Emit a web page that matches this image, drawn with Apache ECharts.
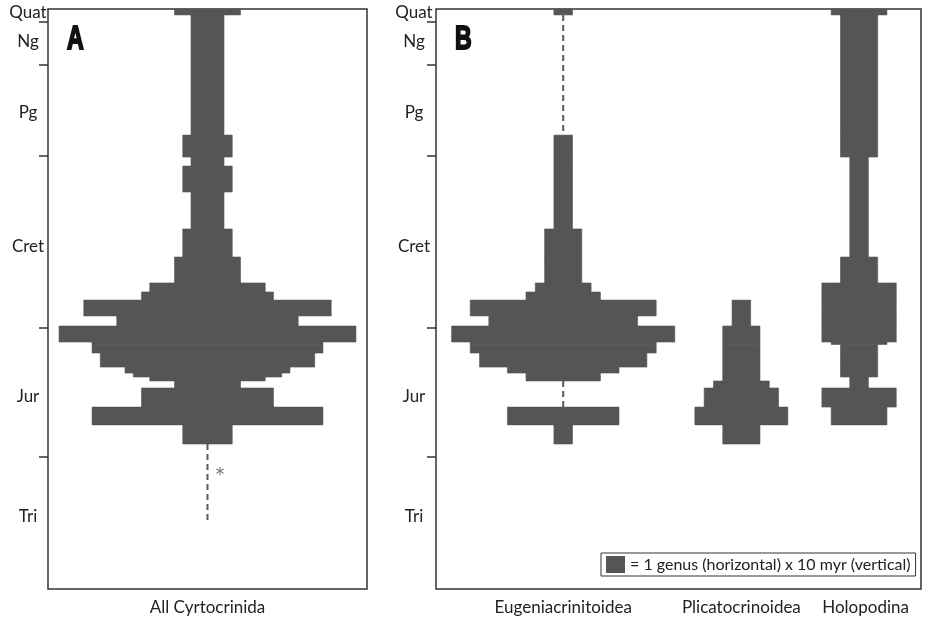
<!DOCTYPE html>
<html>
<head>
<meta charset="utf-8">
<title>Cyrtocrinida spindle diagrams</title>
<script src="https://cdn.jsdelivr.net/npm/echarts@6.0.0/dist/echarts.min.js"></script>
<style>
  html, body { margin: 0; padding: 0; background: #fff; }
  #chart { width: 930px; height: 621px; }
</style>
</head>
<body>
<div id="chart"></div>
<script>
// time bins in Ma, top of the column to the base (23 bins)
const binEdges = [0, 2.7, 57.4, 67.4, 71.5, 83.3, 100.1, 112.9, 124.7, 128.8, 132.5, 139.7,
  144.3, 151.6, 152.7, 156.6, 163.0, 165.7, 167.5, 169.3, 172.5, 181.2, 189.3, 198.0]

// genus counts per bin
const allCyrtocrinida = [4, 2, 3, 2, 3, 2, 3, 4, 7, 8, 15, 11, 18, 14, 14, 13, 10, 9, 7, 4, 8, 14, 3]
const eugeniacrinitoidea = [1, 0, 1, 1, 1, 1, 2, 2, 3, 4, 10, 8, 12, 10, 10, 9, 6, 4, 4, 0, 0, 6, 1]
const plicatocrinoidea = [0, 0, 0, 0, 0, 0, 0, 0, 0, 0, 1, 1, 2, 2, 2, 2, 2, 2, 2, 3, 4, 5, 2]
const holopodina = [3, 2, 2, 1, 1, 1, 1, 2, 4, 4, 4, 4, 4, 3, 2, 2, 2, 2, 1, 1, 4, 3, 0]

// ghost ranges (dashed), Ma
const cyrtoGhost = [[198.0, 233.5]]
const eugGhost = [[2.7, 57.4], [169.3, 181.2]]

// time scale
const periodBounds = [5.8, 25.2, 66.7, 145.0, 204.0]
const periodNames = ['Quat', 'Ng', 'Pg', 'Cret', 'Jur', 'Tri']
const periodLabelAt = [1.8, 15.0, 47.3, 107.9, 176.6, 231.2]

// layout (genus units along x)
const B_CENTERS = [6.84, 16.42, 22.75]
const B_LABEL_AT = [6.84, 16.42, 23.1]
const B_NAMES = ['Eugeniacrinitoidea', 'Plicatocrinoidea', 'Holopodina']
const ASTERISK_AT = [0.76, 212.5]

const FILL = '#555555'
const INK = '#222222'
const FONT = 'Lato, "Open Sans", sans-serif'

const toRows = (counts, center) =>
  counts.map((n, i) => [center, binEdges[i], binEdges[i + 1], n]).filter((r) => r[3] > 0)

const toGhost = (ranges, center) => ranges.map((r) => [center, r[0], r[1]])

const spindleItem = (params, api) => {
  const c = api.value(0)
  const n = api.value(3)
  const p0 = api.coord([c - n / 2, api.value(1)])
  const p1 = api.coord([c + n / 2, api.value(2)])
  return {
    type: 'rect',
    shape: { x: p0[0], y: p0[1], width: p1[0] - p0[0], height: p1[1] - p0[1] },
    style: { fill: FILL, stroke: FILL, lineWidth: 0.6 },
  }
}

const ghostItem = (params, api) => {
  const a = api.coord([api.value(0), api.value(1)])
  const b = api.coord([api.value(0), api.value(2)])
  return {
    type: 'line',
    shape: { x1: a[0], y1: a[1], x2: b[0], y2: b[1] },
    style: { stroke: '#5a5a5a', lineWidth: 2, lineDash: [6, 4] },
  }
}

const timeAxis = (gridIndex, margin) => ({
  type: 'value',
  gridIndex,
  inverse: true,
  min: 0,
  max: 264,
  axisLine: { show: false, onZero: false },
  splitLine: { show: false },
  axisTick: {
    show: true,
    customValues: periodBounds,
    length: 9,
    lineStyle: { color: '#333', width: 1.5 },
  },
  axisLabel: {
    customValues: periodLabelAt,
    formatter: (v) => periodNames[periodLabelAt.indexOf(v)],
    align: 'center',
    margin,
    fontSize: 17,
    fontFamily: FONT,
    color: INK,
  },
})

const cladeAxis = (gridIndex, min, max, values, names) => ({
  type: 'value',
  gridIndex,
  min,
  max,
  axisLine: { show: false, onZero: false },
  axisTick: { show: false },
  splitLine: { show: false },
  axisLabel: {
    customValues: values,
    formatter: (v) => names[values.indexOf(v)],
    margin: 10,
    fontSize: 17,
    fontFamily: FONT,
    color: INK,
  },
})

const spindle = (name, idx, rows) => ({
  name,
  type: 'custom',
  xAxisIndex: idx,
  yAxisIndex: idx,
  renderItem: spindleItem,
  itemStyle: { color: FILL },
  encode: { x: 0, y: [1, 2] },
  clip: false,
  data: rows,
})

const ghost = (idx, rows) => ({
  type: 'custom',
  xAxisIndex: idx,
  yAxisIndex: idx,
  renderItem: ghostItem,
  encode: { x: 0, y: [1, 2] },
  data: rows,
})

const box = { show: true, borderColor: '#333', borderWidth: 1.5, outerBoundsMode: 'none' }

const letter = (text, x) => ({
  type: 'text',
  x,
  y: 23,
  scaleX: 0.7,
  style: {
    text,
    font: 'bold 33px "Liberation Sans", Arial, sans-serif',
    fill: '#111',
    stroke: '#111',
    lineWidth: 2,
    verticalAlign: 'top',
  },
})

const option = {
  animation: false,
  backgroundColor: '#fff',
  textStyle: { fontFamily: FONT },
  grid: [
    { ...box, left: 48, top: 9, width: 319, height: 580 },
    { ...box, left: 436, top: 9, width: 485, height: 580 },
  ],
  xAxis: [
    cladeAxis(0, -9.67, 9.67, [0], ['All Cyrtocrinida']),
    cladeAxis(1, 0, 26.08, B_LABEL_AT, B_NAMES),
  ],
  yAxis: [timeAxis(0, 20), timeAxis(1, 22)],
  legend: {
    left: 601,
    top: 553,
    data: [{ name: 'Eugeniacrinitoidea', icon: 'rect' }],
    formatter: () => '= 1 genus (horizontal) x 10 myr (vertical)',
    selectedMode: false,
    itemWidth: 19,
    itemHeight: 17,
    padding: [3, 5],
    borderColor: '#333',
    borderWidth: 1,
    textStyle: { fontSize: 16, color: INK, fontFamily: FONT },
  },
  graphic: [letter('A', 67), letter('B', 455)],
  series: [
    spindle('All Cyrtocrinida', 0, toRows(allCyrtocrinida, 0)),
    ghost(0, toGhost(cyrtoGhost, 0)),
    {
      type: 'scatter',
      xAxisIndex: 0,
      yAxisIndex: 0,
      symbolSize: 1,
      itemStyle: { color: 'transparent' },
      label: {
        show: true,
        position: 'inside',
        formatter: '*',
        fontSize: 17,
        fontFamily: '"DejaVu Sans", sans-serif',
        color: '#444',
      },
      data: [ASTERISK_AT],
    },
    spindle('Eugeniacrinitoidea', 1, toRows(eugeniacrinitoidea, B_CENTERS[0])),
    ghost(1, toGhost(eugGhost, B_CENTERS[0])),
    spindle('Plicatocrinoidea', 1, toRows(plicatocrinoidea, B_CENTERS[1])),
    spindle('Holopodina', 1, toRows(holopodina, B_CENTERS[2])),
  ],
}

const chart = echarts.init(document.getElementById('chart'))
chart.setOption(option)
</script>
</body>
</html>
